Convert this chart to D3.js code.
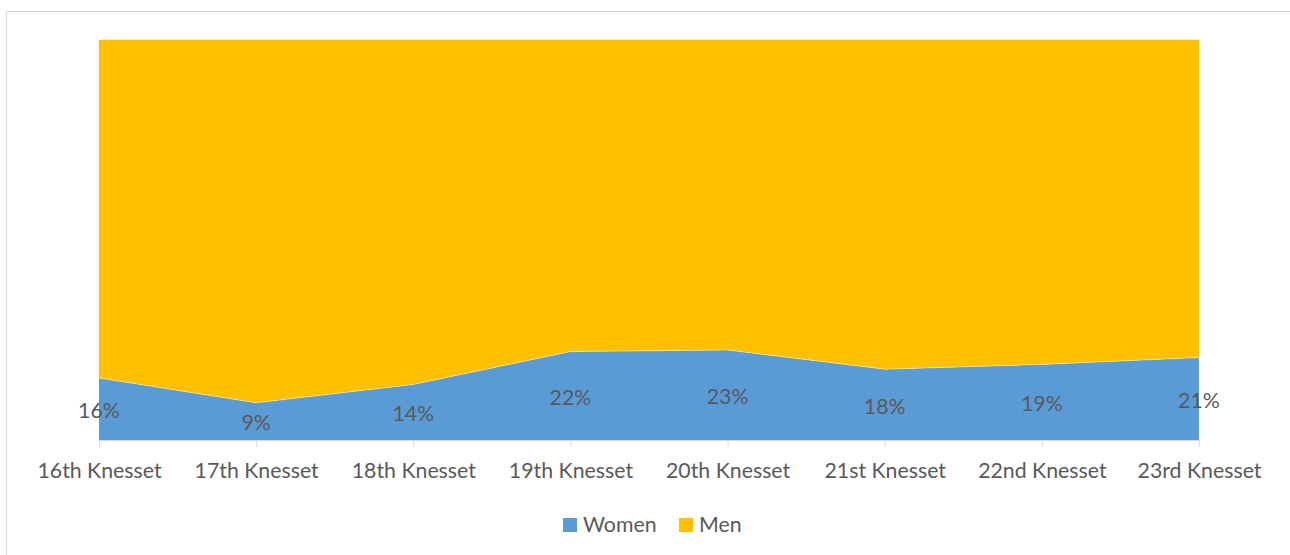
<!DOCTYPE html>
<html>
<head>
<meta charset="utf-8">
<script src="https://cdn.jsdelivr.net/npm/d3@7"></script>
<style>
  body { margin: 0; background: #fff; }
  svg text { font-family: Lato, "Open Sans", sans-serif; fill: #595959; }
</style>
</head>
<body>
<div id="container"><svg></svg></div>
<script>
let width = 1290;
let height = 555;

let categories = ['16th Knesset', '17th Knesset', '18th Knesset', '19th Knesset',
                  '20th Knesset', '21st Knesset', '22nd Knesset', '23rd Knesset'];
let women = [15.5, 9.3, 13.9, 22.1, 22.5, 17.7, 18.9, 20.6];
let men = [84.5, 90.7, 86.1, 77.9, 77.5, 82.3, 81.1, 79.4];
let seriesNames = ['Women', 'Men'];
let colors = ['#5b9bd5', '#ffc000'];

let margin = {left: 99, right: 91, top: 40, bottom: 115};
let fontSize = 21.3;

function draw_chart() {
    let svg = d3.select('#container').select('svg')
        .attr('width', width)
        .attr('height', height);

    // chart border
    svg.append('rect')
        .attr('x', 6.5).attr('y', 11.5)
        .attr('width', width + 20).attr('height', height + 20)
        .attr('fill', 'none')
        .attr('stroke', '#d9d9d9');

    let x = d3.scalePoint()
        .domain(categories)
        .range([margin.left, width - margin.right]);

    let y = d3.scaleLinear()
        .domain([0, 100])
        .range([height - margin.bottom, margin.top]);

    let rows = categories.map((c, i) => ({cat: c, Women: women[i], Men: men[i]}));
    let stacked = d3.stack().keys(seriesNames)(rows);

    let area = d3.area()
        .x(d => x(d.data.cat))
        .y0(d => y(d[0]))
        .y1(d => y(d[1]));

    // top gridline
    svg.append('line')
        .attr('x1', x.range()[0]).attr('x2', x.range()[1])
        .attr('y1', y(100)).attr('y2', y(100))
        .attr('stroke', '#d9d9d9');

    svg.append('g')
        .selectAll('path')
        .data(stacked)
        .join('path')
        .attr('d', area)
        .attr('fill', (d, i) => colors[i]);

    // boundary between the two areas
    svg.append('path')
        .datum(stacked[0])
        .attr('d', d3.line().x(d => x(d.data.cat)).y(d => y(d[1])))
        .attr('fill', 'none')
        .attr('stroke', '#ffffff')
        .attr('stroke-opacity', 0.5)
        .attr('stroke-width', 0.8);

    // x axis
    let xAxis = svg.append('g')
        .attr('transform', `translate(0,${y(0)})`)
        .call(d3.axisBottom(x).tickSize(7).tickSizeOuter(0));
    xAxis.select('.domain').attr('stroke', '#d9d9d9');
    xAxis.selectAll('.tick line').attr('stroke', '#d9d9d9');
    xAxis.selectAll('.tick text')
        .attr('y', 31)
        .attr('dy', '0.35em')
        .attr('font-size', fontSize)
        .attr('fill', '#595959')
        .style('font-family', 'Lato, sans-serif');

    // data labels
    svg.append('g')
        .selectAll('text')
        .data(stacked[0])
        .join('text')
        .attr('x', d => x(d.data.cat))
        .attr('y', d => y(d[1] / 2) + 1.5)
        .attr('dy', '0.35em')
        .attr('text-anchor', 'middle')
        .attr('font-size', fontSize)
        .text(d => Math.round(d.data.Women) + '%');

    // legend
    let legendX = [563, 679];
    let legend = svg.append('g')
        .selectAll('g')
        .data(seriesNames)
        .join('g')
        .attr('transform', (d, i) => `translate(${legendX[i]},518)`);
    legend.append('rect')
        .attr('width', 14).attr('height', 14)
        .attr('fill', (d, i) => colors[i]);
    legend.append('text')
        .attr('x', 20).attr('y', 7)
        .attr('dy', '0.35em')
        .attr('font-size', fontSize)
        .text(d => d);
}

draw_chart();
</script>
</body>
</html>
